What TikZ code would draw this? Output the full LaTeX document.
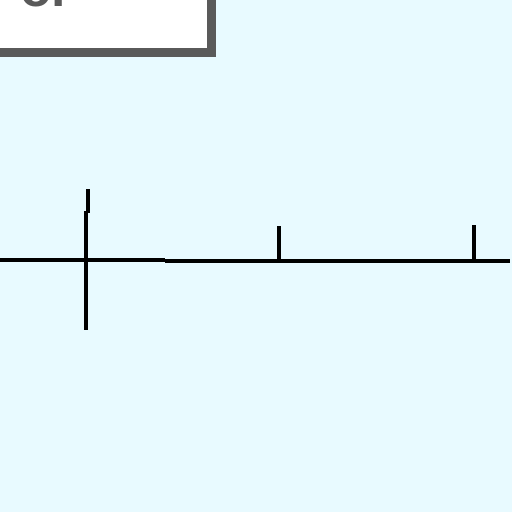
\documentclass[tikz,border=0pt]{standalone}
\usepackage{fontspec}
\setmainfont{Liberation Sans}
\definecolor{bgcyan}{RGB}{232,250,255}
\definecolor{boxgray}{RGB}{90,90,90}
\tikzset{
  wire/.style={line width=3.5pt, black},
  tick/.style={line width=4pt, black},
}
\begin{document}
\begin{tikzpicture}[x=1pt,y=-1pt]
\useasboundingbox (0,0) rectangle (512,512);
\clip (0,0) rectangle (512,512);
\fill[bgcyan] (0,0) rectangle (512,512);
% box (cut off at top-left)
\fill[boxgray] (-10,-10) rectangle (216,57);
\fill[white] (-10,-10) rectangle (207,48);
\node[anchor=base west, inner sep=0pt, font=\fontsize{52}{52}\selectfont\bfseries, text=boxgray] (lbl) at (20,6) {or};
% wires
\coordinate (l0) at (0,260);
\coordinate (l1) at (165,260);
\coordinate (r0) at (165,261);
\coordinate (r1) at (510,261);
\draw[wire] (l0) -- (l1);
\draw[wire] (r0) -- (r1);
% cross
\coordinate (ct) at (88,189);
\coordinate (cm) at (88,213);
\coordinate (cb) at (86,330);
\draw[tick] (ct) -- (cm);
\draw[wire] (86,211) -- (cb);
% ticks
\coordinate (t1a) at (279,226);
\coordinate (t1b) at (279,261);
\coordinate (t2a) at (474,225);
\coordinate (t2b) at (474,261);
\draw[wire] (t1a) -- (t1b);
\draw[wire] (t2a) -- (t2b);
\end{tikzpicture}
\end{document}
